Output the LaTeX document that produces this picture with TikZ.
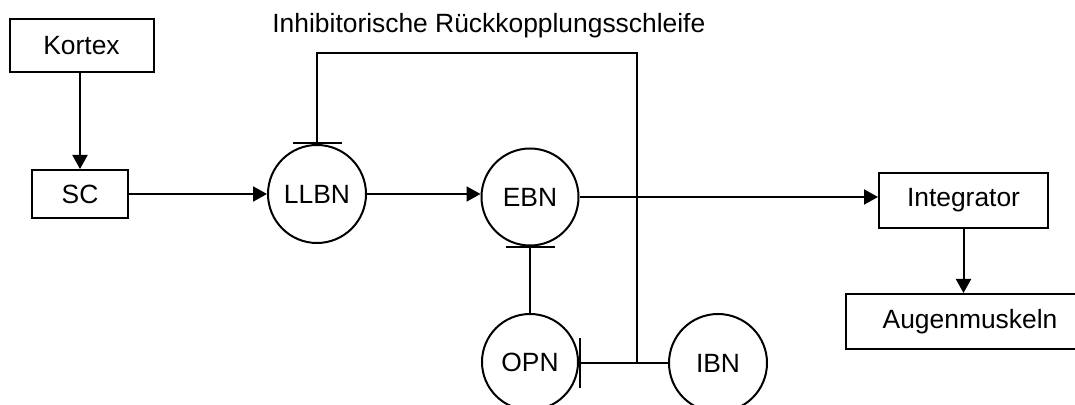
\documentclass[tikz,border=0pt]{standalone}
\usepackage{fontspec}
\setmainfont{Liberation Sans}
\usetikzlibrary{arrows.meta}

\begin{document}
\begin{tikzpicture}[x=0.5pt, y=-0.5pt,
    font=\fontsize{13.2}{15}\selectfont,
    block/.style={draw, line width=1pt, inner sep=0pt},
    neuron/.style={draw, circle, line width=1pt, inner sep=0pt}]

    \clip (0,0) rectangle (1075,405);

    \node[anchor=base west, inner sep=0pt] (title) at (272,33) {Inhibitorische Rückkopplungsschleife};

    \node[block, minimum width=72pt, minimum height=26.5pt] (kortex) at (81.5,45.5) {Kortex};
    \node[block, minimum width=48pt, minimum height=24pt] (sc) at (80,194) {SC};
    \node[block, minimum width=84.5pt, minimum height=27.5pt] (integ) at (963.5,200.5) {Integrator};
    \node[block, minimum width=124pt, minimum height=27.5pt] (augen) at (970,321.5) {Augenmuskeln};

    \node[neuron, minimum size=49pt] (llbn) at (317,194) {LLBN};
    \node[neuron, minimum size=48.5pt] (ebn) at (530,197) {EBN};
    \node[neuron, minimum size=48pt] (opn) at (530,362) {OPN};
    \node[neuron, minimum size=49pt] (ibn) at (718,363) {IBN};

    \coordinate (fb) at (637,363);
    \coordinate (loop) at (637,53);

    \begin{scope}[line width=1pt, >={Triangle[length=7pt,width=7.5pt]}]
        \draw [->] (sc.north |- kortex.south) -- (sc.north);
        \draw [->] (sc.east) -- (sc.east -| llbn.west);
        \draw [->] (llbn.east) -- (llbn.east -| ebn.west);
        \draw [->] (ebn.east) -- (ebn.east -| integ.west);
        \draw [->] (integ.south) -- (integ.south |- augen.north);
    \end{scope}

    % hemmende Verbindungen
    \begin{scope}[line width=1pt, -{Bar[width=24.5pt,line width=1pt]}]
        \draw (fb) -- (loop) -| (llbn.north);
        \draw (opn.north) -- (ebn.south);
        \draw (ibn.west) -- (ibn.west -| opn.east);
    \end{scope}

\end{tikzpicture}
\end{document}
